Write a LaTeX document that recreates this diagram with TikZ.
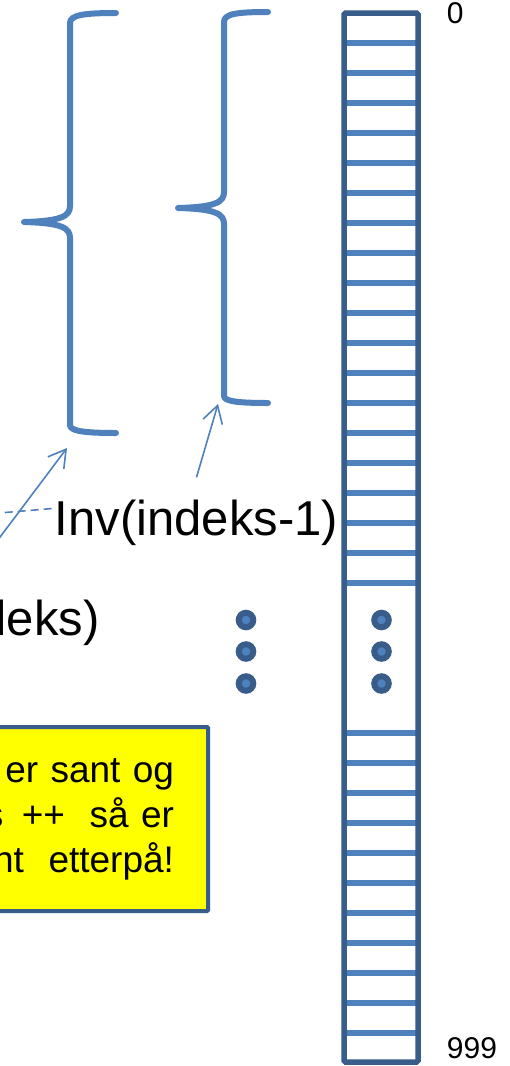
\documentclass[tikz,border=0pt]{standalone}
\usepackage{fontspec}
\setmainfont{Liberation Sans}
\usetikzlibrary{arrows.meta, positioning}
\definecolor{color_cell}{HTML}{4F81BD}
\definecolor{color_frame}{HTML}{385D8A}
\definecolor{color_note}{HTML}{FFFF00}
\definecolor{color_text}{HTML}{000000}
\tikzset{
  brace_line/.style={draw=color_cell, line width=6pt, line cap=round, line join=round},
  array_frame/.style={draw=color_frame, line width=5.5pt, rounded corners=1.5pt, inner sep=0pt},
  cell_divide/.style={draw=color_cell, line width=5.5pt},
  gap_dot/.style={circle, fill=color_cell, draw=color_frame, line width=6pt, inner sep=0pt, minimum size=14.5pt},
  index_label/.style={font=\fontsize{30}{36}\selectfont, text=color_text, inner sep=0pt},
  inv_label/.style={font=\fontsize{49}{58}\selectfont, text=color_text, inner sep=0pt},
  note_box/.style={draw=color_frame, fill=color_note, line width=4pt, rounded corners=1pt, align=right, font=\fontsize{37}{45}\selectfont, text=color_text},
  pointer_arrow/.style={-{Straight Barb[length=17pt, width=20pt]}, draw=color_cell, line width=1.6pt},
  pointer_dash/.style={draw=color_cell, line width=1.6pt, dash pattern=on 8pt off 5pt},
}

\begin{document}
\begin{tikzpicture}[x=1pt, y=-1pt]
    % Page
    \path[fill=white, use as bounding box] (0,0) rectangle (510,1066);
    % Braces
    \draw[brace_line] (116,13) .. controls (84,13) and (70,15) .. (70,23) -- (70,206)
      .. controls (70,216) and (62,221) .. (24,222)
      .. controls (62,223) and (70,228) .. (70,238) -- (70,425)
      .. controls (70,431) and (84,433) .. (116,433);
    \draw[brace_line] (268,12) .. controls (236,12) and (224,14) .. (224,22) -- (224,192)
      .. controls (224,202) and (216,207) .. (178,208)
      .. controls (216,209) and (224,214) .. (224,224) -- (224,396)
      .. controls (224,401) and (236,403) .. (268,403);
    \coordinate (braceOneFoot) at (67,448);
    \coordinate (braceTwoFoot) at (218,404);
    % Array cells
    \foreach \row in {0,...,18}
      \draw[cell_divide] (344,{43+30*\row}) -- (418,{43+30*\row});
    \foreach \row in {0,...,10}
      \draw[cell_divide] (344,{733+30*\row}) -- (418,{733+30*\row});
    \node[array_frame, minimum width=74pt, minimum height=1049pt] (arr) at (381,537.5) {};
    \node[index_label, anchor=base west] (firstIdx) at (446.7,23) {0};
    \node[index_label, anchor=base west] (lastIdx) at (446.7,1058) {999};
    % Dots
    \foreach \k/\yy in {1/620, 2/651.5, 3/683.5} {
      \node[gap_dot] (outerDot\k) at (246,\yy) {};
      \node[gap_dot] (innerDot\k) at (381.5,\yy) {};
    }
    % Invariants
    \node[inv_label, anchor=base west] (invIdxPrev) at (54.7,535) {Inv(indeks-1)};
    \node[inv_label, anchor=base east] (invIdx) at (99.6,635) {Inv(indeks)};
    \coordinate (dashTail) at (-60,518);
    \draw[pointer_dash] (dashTail) -- ([yshift=14pt]invIdxPrev.west);
    \draw[pointer_arrow] ([yshift=35pt]invIdx.north) -- (braceOneFoot);
    \draw[pointer_arrow] ([yshift=22pt]invIdxPrev.north) -- (braceTwoFoot);
    % Note
    \node[note_box, anchor=north east, text width=300pt, inner xsep=34pt, minimum height=184pt]
      (note) at (210,725) {er sant og\\s\,\ ++\ \ så er\\nt\ \ etterpå!};
  \end{tikzpicture}
\end{document}
